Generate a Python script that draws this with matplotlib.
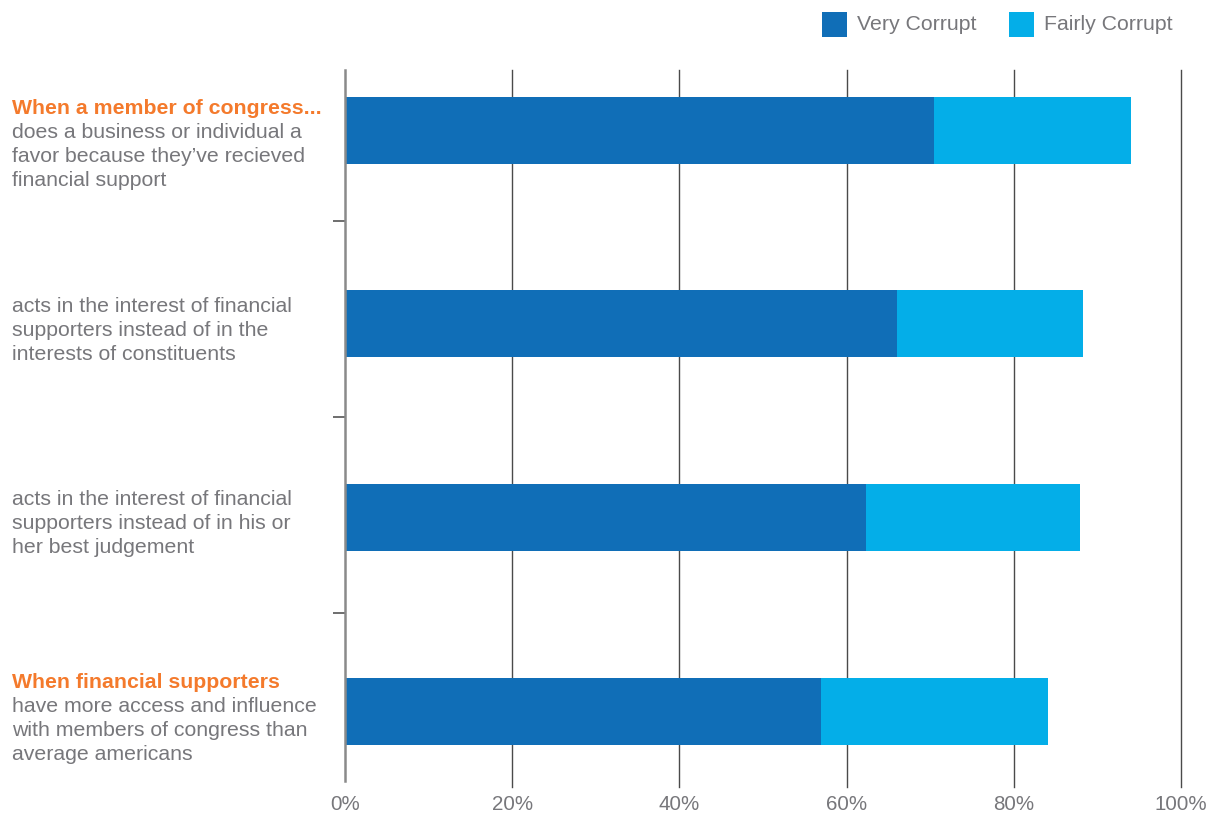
import matplotlib
matplotlib.use('Agg')
import matplotlib.pyplot as plt
import matplotlib.transforms as mtransforms
from matplotlib.patches import Rectangle
import numpy as np

# ── 配色 ──
DARK_BLUE  = '#106EB7'
LIGHT_BLUE = '#04AEE8'
ORANGE     = '#F47A2C'
TXT_GRAY   = '#77777B'
GRID       = '#4A4A4A'
AXIS_GRAY  = '#8A8A8A'

plt.rcParams['font.family'] = ['Liberation Sans', 'DejaVu Sans']

# ── 資料 ──
headers = ['When a member of congress...', '', '', 'When financial supporters']
bodies = [
    'does a business or individual a\nfavor because they\u2019ve recieved\nfinancial support',
    'acts in the interest of financial\nsupporters instead of in the\ninterests of constituents',
    'acts in the interest of financial\nsupporters instead of in his or\nher best judgement',
    'have more access and influence\nwith members of congress than\naverage americans',
]
very_corrupt   = [70.5, 66.0, 62.3, 56.9]
fairly_corrupt = [23.5, 22.3, 25.6, 27.2]
x_ticks = [0, 20, 40, 60, 80, 100]

W, H = 1216, 817
FS = 15.3
fig = plt.figure(figsize=(W / 100, H / 100), dpi=100, facecolor='white')

# 軸區：x 0%→345px, 100%→1181px；格線 y 70→787px
ax = fig.add_axes([345 / W, 1 - 787 / H, (1181 - 345) / W, (787 - 70) / H])
y_top, y_bot = -0.31, 3.39
ax.set_xlim(0, 100)
ax.set_ylim(y_bot, y_top)

y = np.arange(len(very_corrupt))
bh = 0.345
ax.barh(y, very_corrupt, bh, color=DARK_BLUE, zorder=3)
ax.barh(y, fairly_corrupt, bh, left=very_corrupt, color=LIGHT_BLUE, zorder=3)

# 格線
for xv in x_ticks[1:]:
    ax.axvline(xv, color=GRID, linewidth=1.0, zorder=1, clip_on=False)

for s in ['top', 'right', 'bottom']:
    ax.spines[s].set_visible(False)
ax.spines['left'].set_color(AXIS_GRAY)
ax.spines['left'].set_linewidth(1.8)
ax.spines['left'].set_bounds(y_top, 3.36)
ax.spines['left'].set_zorder(4)

ax.set_xticks(x_ticks)
ax.set_xticklabels([f'{v}%' for v in x_ticks], color=TXT_GRAY, fontsize=14.8)
ax.tick_params(axis='x', length=0, pad=6)

ax.set_yticks([0.47, 1.48, 2.49])
ax.set_yticklabels([])
ax.tick_params(axis='y', length=9, width=1.2, color='#555555')

# ── 左側標籤 ──
px_per_unit = (787 - 70) / (y_bot - y_top)
line_h = 24 / px_per_unit
offsets = [0.075, 0.032, 0.032, 0.035]
trans = mtransforms.blended_transform_factory(fig.transFigure, ax.transData)
for i, (hd, bd) in enumerate(zip(headers, bodies)):
    lines = ([(hd, ORANGE, 'bold')] if hd else []) + [(l, TXT_GRAY, 'normal') for l in bd.split('\n')]
    n = len(lines)
    c = i + offsets[i]
    for k, (txt, clr, fw) in enumerate(lines):
        yy = c + (k - (n - 1) / 2) * line_h
        ax.text(12 / W, yy, txt, transform=trans, color=clr, fontsize=FS,
                fontweight=fw, ha='left', va='center', clip_on=False)

# ── 圖例 ──
leg = [('Very Corrupt', DARK_BLUE, 822), ('Fairly Corrupt', LIGHT_BLUE, 1009)]
for name, clr, xp in leg:
    fig.patches.append(Rectangle((xp / W, 1 - 37 / H), 25 / W, 25 / H,
                                 transform=fig.transFigure, facecolor=clr, edgecolor='none'))
    fig.text((xp + 35) / W, 1 - 25 / H, name, color=TXT_GRAY, fontsize=FS,
             ha='left', va='center')

fig.savefig('out.png', dpi=100, facecolor='white')
